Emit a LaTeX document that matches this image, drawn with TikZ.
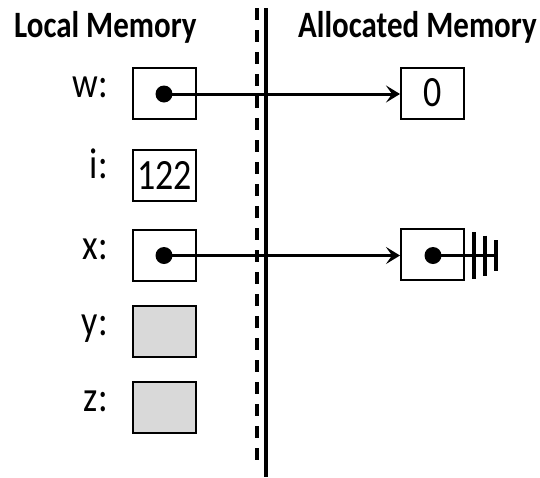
\documentclass[tikz,border=0pt]{standalone}
\usepackage{fontspec}
\setmainfont{Carlito}
\usepackage{tikz}
\usetikzlibrary{arrows.meta}
\definecolor{slotgray}{HTML}{D9D9D9}
\tikzstyle{title} = [inner sep=0pt, font=\fontsize{31}{36}\selectfont\bfseries, yscale=1.2]
\tikzstyle{lbl} = [inner sep=0pt, font=\fontsize{36}{40}\selectfont, yscale=1.2]
\tikzstyle{cell} = [draw, line width=2pt, minimum width=63pt, minimum height=42.5pt, inner sep=0pt, font=\fontsize{36}{40}\selectfont, yscale=1.2]
\tikzstyle{dot} = [circle, fill=black, minimum size=17pt, inner sep=0pt]
\tikzstyle{ptr} = [line width=3pt, -{Stealth[length=14pt,width=17pt,inset=6pt]}]

\begin{document}
\begin{tikzpicture}[yscale=-1]
			\useasboundingbox (0pt,0pt) rectangle (540pt,477pt);
			\draw[line width=3.5pt, dash pattern=on 12pt off 10pt] (257pt,8pt) -- (257pt,466pt);
			\draw[line width=3.8pt] (266pt,8pt) -- (266pt,477pt);
			\node[title, anchor=base west] (localt) at (14pt,37pt) {Local Memory};
			\node[title, anchor=base west] (alloct) at (298pt,37pt) {Allocated Memory};
			\node[cell] (w) at (164.5pt,93.5pt) {};
			\node[cell] (i) at (164.5pt,175pt) {122};
			\node[cell] (x) at (164.5pt,255pt) {};
			\node[cell, fill=slotgray] (y) at (164.5pt,331.5pt) {};
			\node[cell, fill=slotgray] (z) at (164.5pt,407.5pt) {};
			\node[lbl, anchor=mid east] (wl) at (108pt,94.5pt) {w:};
			\node[lbl, anchor=mid east] (il) at (108pt,176pt) {i:};
			\node[lbl, anchor=mid east] (xl) at (108pt,257pt) {x:};
			\node[lbl, anchor=mid east] (yl) at (108pt,332.5pt) {y:};
			\node[lbl, anchor=mid east] (zl) at (108pt,408.5pt) {z:};
			\node[cell] (zero) at (432.5pt,93pt) {0};
			\node[cell] (node) at (432.5pt,254pt) {};
			\node[dot] (wdot) at (164pt,94pt) {};
			\node[dot] (xdot) at (164pt,255.5pt) {};
			\node[dot] (ndot) at (433pt,255.5pt) {};
			\coordinate (gnd) at (496pt,255.5pt);
			\draw[ptr] (wdot.center) -- (wdot.center -| zero.west);
			\draw[ptr] (xdot.center) -- (xdot.center -| node.west);
			\draw[line width=3pt] (ndot.center) -- (gnd);
			% null marker
			\draw[line width=3.3pt] ([xshift=-22pt,yshift=-23.5pt]gnd) -- ++(0pt,47pt);
			\draw[line width=3.3pt] ([xshift=-11pt,yshift=-20pt]gnd) -- ++(0pt,40pt);
			\draw[line width=3.3pt] ([yshift=-15.5pt]gnd) -- ++(0pt,31pt);
		\end{tikzpicture}
\end{document}
